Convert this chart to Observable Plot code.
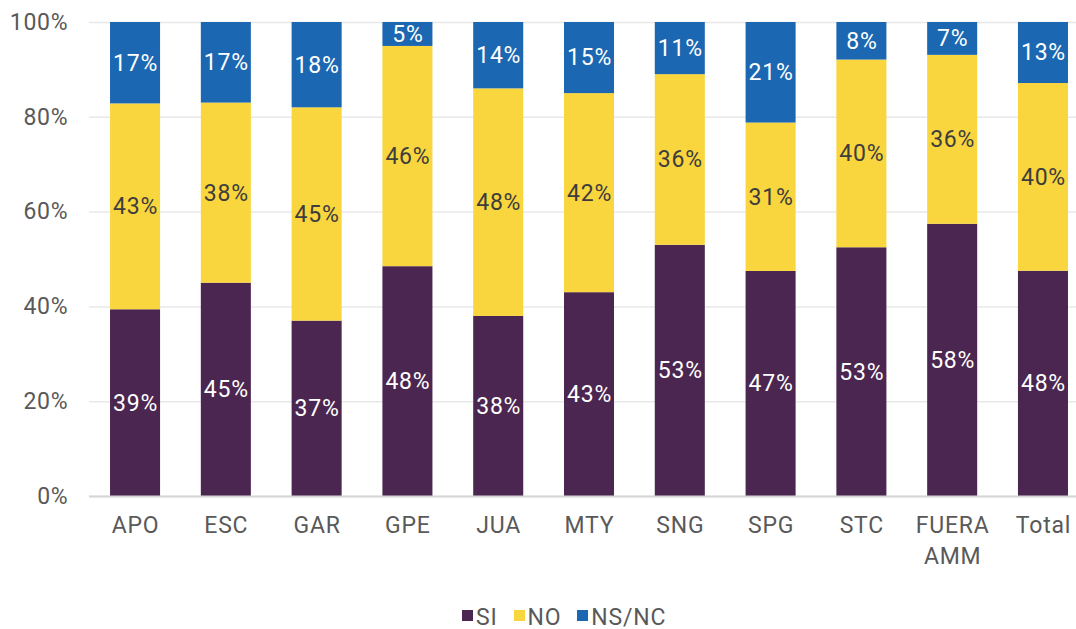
<!DOCTYPE html>
<html>
<head>
<meta charset="utf-8">
<script src="https://cdn.jsdelivr.net/npm/d3@7"></script>
<script src="https://cdn.jsdelivr.net/npm/@observablehq/plot@0.6"></script>
<style>
  html, body { margin: 0; padding: 0; background: #ffffff; }
  #wrap { position: relative; width: 1076px; height: 629px; font-family: Roboto, sans-serif; }
  #legend { position: absolute; left: 462px; top: 608px; display: flex; align-items: center; font-size: 23px; letter-spacing: 0.8px; color: #595959; line-height: 20px; height: 20px; }
  .item { display: flex; align-items: center; margin-right: 16px; }
  .sw { width: 11px; height: 11px; margin-right: 3px; margin-top: -6px; }
</style>
</head>
<body>
<div id="wrap"><div id="chart"></div><div id="legend"></div></div>
<script>
const categories = ["APO", "ESC", "GAR", "GPE", "JUA", "MTY", "SNG", "SPG", "STC", "FUERA AMM", "Total"];
const seriesNames = ["SI", "NO", "NS/NC"];
const siValues   = [39, 45, 37, 48, 38, 43, 53, 47, 53, 58, 48];
const noValues   = [43, 38, 45, 46, 48, 42, 36, 31, 40, 36, 40];
const nsncValues = [17, 17, 18, 5, 14, 15, 11, 21, 8, 7, 13];
const seriesColors = ["#4B2650", "#F9D53E", "#1B67B2"];
const yTicks = [0, 0.2, 0.4, 0.6, 0.8, 1];

const valuesBySeries = [siValues, noValues, nsncValues];
const rows = [];
categories.forEach((cat, i) => {
  seriesNames.forEach((s, j) => rows.push({cat, series: s, value: valuesBySeries[j][i]}));
});

const stackOpts = (extra) => Plot.stackY({
  x: "cat", y: "value", z: "series", order: seriesNames, offset: "normalize", ...extra
});

const chart = Plot.plot({
  width: 1076,
  height: 600,
  marginLeft: 89,
  marginRight: 0,
  marginTop: 22,
  marginBottom: 104,
  style: {fontFamily: "Roboto, sans-serif", fontSize: "23px", letterSpacing: "0.8px", color: "#595959", background: "white"},
  x: {domain: categories, paddingInner: 0.449, paddingOuter: 0.16, align: 0.724, round: false, label: null},
  y: {domain: [0, 1], label: null},
  color: {domain: seriesNames, range: seriesColors},
  marks: [
    Plot.gridY(yTicks, {stroke: "#e8e8e8", strokeOpacity: 1, strokeWidth: 1.5}),
    Plot.barY(rows, stackOpts({fill: "series"})),
    Plot.ruleY([0], {stroke: "#d6d6d6", strokeWidth: 2}),
    Plot.text(rows, stackOpts({
      text: d => d.series === "NO" ? null : d.value + "%",
      fill: "white", fontSize: 23
    })),
    Plot.text(rows, stackOpts({
      text: d => d.series === "NO" ? d.value + "%" : null,
      fill: "#3d3d3d", fontSize: 23
    })),
    Plot.axisY(yTicks, {tickSize: 0, tickPadding: 21, tickFormat: d3.format(".0%"), fontSize: 23, label: null}),
    Plot.axisX({tickSize: 0, tickPadding: 14, tickFormat: d => d.replace(" ", "\n"), lineHeight: 1.36, fontSize: 23, label: null})
  ]
});
document.getElementById("chart").appendChild(chart);

const legend = document.getElementById("legend");
seriesNames.forEach((s, i) => {
  const item = document.createElement("div");
  item.className = "item";
  const sw = document.createElement("div");
  sw.className = "sw";
  sw.style.background = seriesColors[i];
  const t = document.createElement("span");
  t.textContent = s;
  item.appendChild(sw);
  item.appendChild(t);
  legend.appendChild(item);
});
</script>
</body>
</html>
